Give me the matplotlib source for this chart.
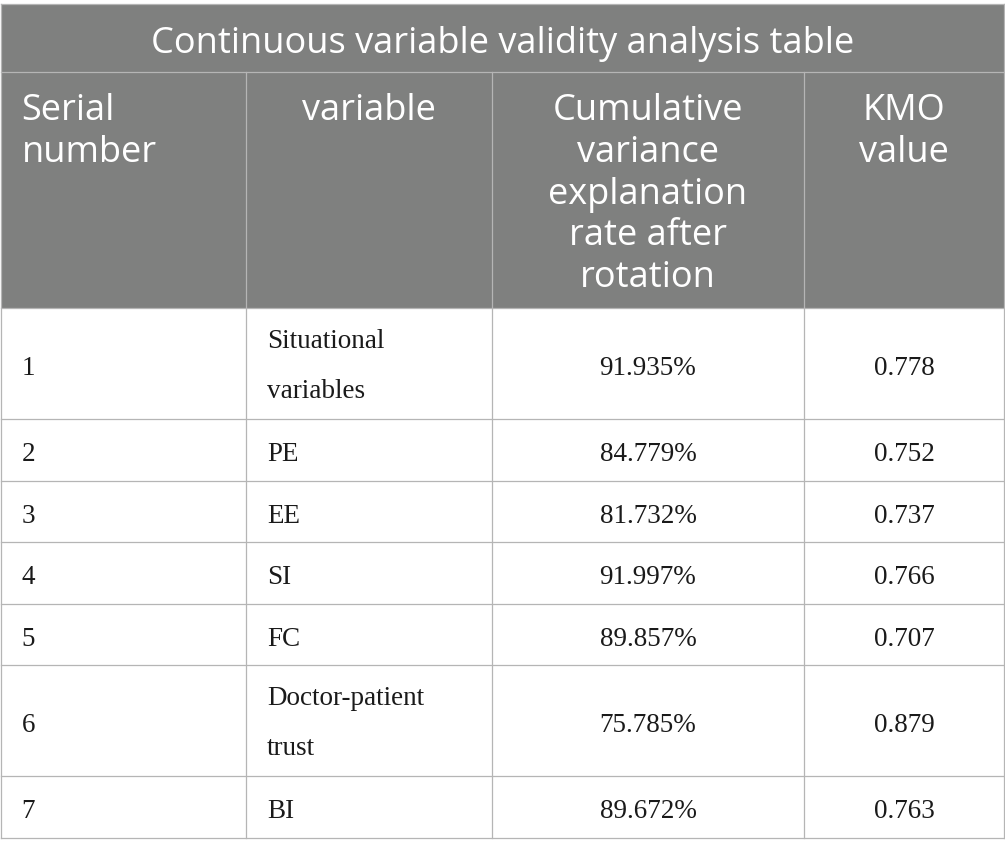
"""
Continuous variable validity analysis table
"""
import matplotlib.pyplot as plt

# data
title = 'Continuous variable validity analysis table'
headers = [['Serial', 'number'],
           ['variable'],
           ['Cumulative', 'variance', 'explanation', 'rate after', 'rotation'],
           ['KMO', 'value']]
serial = ['1', '2', '3', '4', '5', '6', '7']
variables = [['Situational', 'variables'], ['PE'], ['EE'], ['SI'], ['FC'],
             ['Doctor-patient', 'trust'], ['BI']]
cum_var = [91.935, 84.779, 81.732, 91.997, 89.857, 75.785, 89.672]
kmo = [0.778, 0.752, 0.737, 0.766, 0.707, 0.879, 0.763]

W, H = 1005, 856
head_fill = '#7f807f'
grid = '#b5b5b5'
head_font = 'Open Sans'
body_font = 'Liberation Serif'
hsize = 26
bsize = 19.5

fig = plt.figure(figsize=(W / 100, H / 100), dpi=100)
ax = fig.add_axes([0, 0, 1, 1])
ax.set_xlim(0, W)
ax.set_ylim(H, 0)
ax.axis('off')

cols = [0.5, 246, 492, 804, 1004]
top = 4
title_bot = 72
head_bot = 308

# header background
ax.add_patch(plt.Rectangle((cols[0], top), cols[-1] - cols[0], head_bot - top,
                           facecolor=head_fill, edgecolor='none'))
ax.text(W / 2, 53, title, color='white', fontsize=hsize, family=head_font,
        ha='center', va='baseline')

for i, lines in enumerate(headers):
    for k, line in enumerate(lines):
        y = title_bot + 48 + k * 41.8
        if i == 0:
            ax.text(cols[0] + 21, y, line, color='white', fontsize=hsize,
                    family=head_font, ha='left', va='baseline')
        else:
            ax.text((cols[i] + cols[i + 1]) / 2, y, line, color='white',
                    fontsize=hsize, family=head_font, ha='center', va='baseline')

# body rows
row_tops = [head_bot]
for v in variables:
    row_tops.append(row_tops[-1] + (61.5 if len(v) == 1 else 111))

for r in range(len(serial)):
    y0, y1 = row_tops[r], row_tops[r + 1]
    mid = (y0 + y1) / 2
    base = mid + 11.5
    ax.text(cols[0] + 21, base, serial[r], fontsize=bsize, family=body_font,
            color='#1a1a1a', ha='left', va='baseline')
    v = variables[r]
    if len(v) == 1:
        ax.text(cols[1] + 21, base, v[0], fontsize=bsize, family=body_font,
                color='#1a1a1a', ha='left', va='baseline')
    else:
        for k, line in enumerate(v):
            ax.text(cols[1] + 21, mid - 15.5 + k * 50, line, fontsize=bsize,
                    family=body_font, color='#1a1a1a', ha='left', va='baseline')
    ax.text((cols[2] + cols[3]) / 2, base, f'{cum_var[r]:.3f}%', fontsize=bsize,
            family=body_font, color='#1a1a1a', ha='center', va='baseline')
    ax.text((cols[3] + cols[4]) / 2, base, f'{kmo[r]:.3f}', fontsize=bsize,
            family=body_font, color='#1a1a1a', ha='center', va='baseline')

bottom = row_tops[-1]

# grid lines
lw = 0.9
ax.plot([cols[0], cols[-1]], [top, top], color=grid, lw=lw)
ax.plot([cols[0], cols[-1]], [title_bot, title_bot], color=grid, lw=lw)
for y in row_tops:
    ax.plot([cols[0], cols[-1]], [y, y], color=grid, lw=lw)
ax.plot([cols[0], cols[0]], [top, bottom], color=grid, lw=lw)
ax.plot([cols[-1], cols[-1]], [top, bottom], color=grid, lw=lw)
for x in cols[1:-1]:
    ax.plot([x, x], [title_bot, bottom], color=grid, lw=lw)

fig.savefig('out.png', dpi=100, facecolor='white')
